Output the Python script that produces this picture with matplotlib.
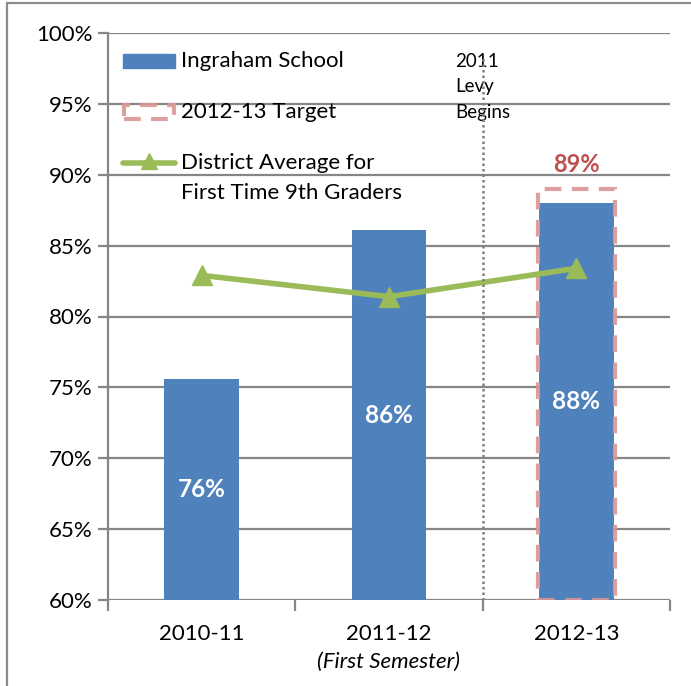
import matplotlib
matplotlib.use("Agg")
import matplotlib.pyplot as plt
from matplotlib.patches import Rectangle
from matplotlib.lines import Line2D

# Graduation data
categories = ["2010-11", "2011-12", "2012-13"]
school_rate = [75.6, 86.1, 88.0]
school_labels = ["76%", "86%", "88%"]
district_avg = [82.9, 81.4, 83.4]
target_value = 89.0
target_label = "89%"
y_ticks = [60, 65, 70, 75, 80, 85, 90, 95, 100]
y_tick_labels = ["60%", "65%", "70%", "75%", "80%", "85%", "90%", "95%", "100%"]

BLUE = "#4F81BD"
GREEN = "#9BBB59"
RED = "#C0504D"
PINK = "#D99694"
GRID = "#868686"
FS = 16

plt.rcParams["font.family"] = ["Lato", "DejaVu Sans"]

W, H = 691, 686
fig = plt.figure(figsize=(W / 100, H / 100), dpi=100)
ax = fig.add_axes([108 / W, 1 - 600 / H, (670 - 108) / W, (600 - 33) / H])

x = list(range(len(categories)))
y_min, y_max = 60, 100

ax.set_xlim(-0.5, 2.5)
ax.set_ylim(y_min, y_max)

# horizontal gridlines
for t in y_ticks:
    ax.axhline(t, color=GRID, lw=1.6, zorder=0)

# bars
ax.bar(x, school_rate, width=0.4, bottom=0, color=BLUE, zorder=2)

# target outline on the last year
tx = x[-1]
ax.add_patch(Rectangle((tx - 0.205, y_min), 0.41, target_value - y_min, fill=False,
                       edgecolor=PINK, lw=3, ls=(0, (4, 2.5)), alpha=0.9, zorder=3))
ax.text(tx, target_value + 0.9, target_label, ha="center", va="bottom",
        color=RED, fontsize=17, fontweight="bold", zorder=4)

# district average line
ax.plot(x, district_avg, color=GREEN, lw=4, marker="^", ms=14,
        markeredgecolor=GREEN, zorder=4, solid_capstyle="round")

# value labels centred in the visible part of each bar
for xi, v, lab in zip(x, school_rate, school_labels):
    ax.text(xi, (y_min + v) / 2, lab, ha="center", va="center", color="white",
            fontsize=17.5, fontweight="bold", zorder=5)

# levy start marker
ax.plot([1.5, 1.5], [y_min, 98.3], color="#7F7F7F", lw=1.8, ls=(0, (1, 1.2)), zorder=6)
ax.text(1.355, 96.2, "2011\nLevy\nBegins", ha="left", va="center", fontsize=13.5,
        linespacing=1.6, zorder=5)

# axes styling
for s in ["top", "right", "bottom"]:
    ax.spines[s].set_visible(False)
ax.spines["left"].set_color(GRID)
ax.spines["left"].set_linewidth(1.6)
ax.set_yticks(y_ticks)
ax.set_yticklabels(y_tick_labels, fontsize=FS)
ax.tick_params(axis="y", length=7, width=1.6, color=GRID, pad=4)

ax.set_xticks([-0.5, 0.5, 1.5, 2.5])
ax.set_xticklabels([])
ax.tick_params(axis="x", length=8, width=1.6, color=GRID)
for xi, c in zip(x, categories):
    ax.text(xi, -0.06, c, transform=ax.get_xaxis_transform(), ha="center",
            va="center", fontsize=FS)
ax.text(1, -0.11, "(First Semester)", transform=ax.get_xaxis_transform(),
        ha="center", va="center", fontsize=FS, style="italic")

# legend drawn in axes coordinates
def ax_frac(px, py):
    return ((px - 108) / (670 - 108), (600 - py) / (600 - 33))

p0 = ax_frac(123, 68)
p1 = ax_frac(175, 54)
ax.add_patch(Rectangle(p0, p1[0] - p0[0], p1[1] - p0[1], transform=ax.transAxes,
                       color=BLUE, zorder=5, clip_on=False))
ax.text(*ax_frac(181, 61), "Ingraham School", transform=ax.transAxes,
        va="center", fontsize=FS, zorder=5)

q0 = ax_frac(124, 119)
q1 = ax_frac(174, 105)
ax.add_patch(Rectangle(q0, q1[0] - q0[0], q1[1] - q0[1], transform=ax.transAxes,
                       fill=False, edgecolor=PINK, lw=3, ls=(0, (4, 2.5)), alpha=0.9,
                       zorder=5, clip_on=False))
ax.text(*ax_frac(181, 112), "2012-13 Target", transform=ax.transAxes,
        va="center", fontsize=FS, zorder=5)

l0 = ax_frac(123, 163)
l1 = ax_frac(175, 163)
ax.add_line(Line2D([l0[0], l1[0]], [l0[1], l1[1]], transform=ax.transAxes,
                   color=GREEN, lw=4, solid_capstyle="round", zorder=5))
ax.add_line(Line2D([(l0[0] + l1[0]) / 2], [l0[1] + 0.004], transform=ax.transAxes,
                   color=GREEN, marker="^", ms=12, zorder=5))
ax.text(*ax_frac(181, 163), "District Average for", transform=ax.transAxes,
        va="center", fontsize=FS, zorder=5)
ax.text(*ax_frac(181, 193), "First Time 9th Graders", transform=ax.transAxes,
        va="center", fontsize=FS, zorder=5)

# outer chart frame
fig.add_artist(Rectangle((7 / W, -0.1), 1.2, 1 - 3.5 / H + 0.1, transform=fig.transFigure,
                         fill=False, edgecolor="#8C8C8C", lw=1.6))

fig.savefig("out.png", dpi=100)
